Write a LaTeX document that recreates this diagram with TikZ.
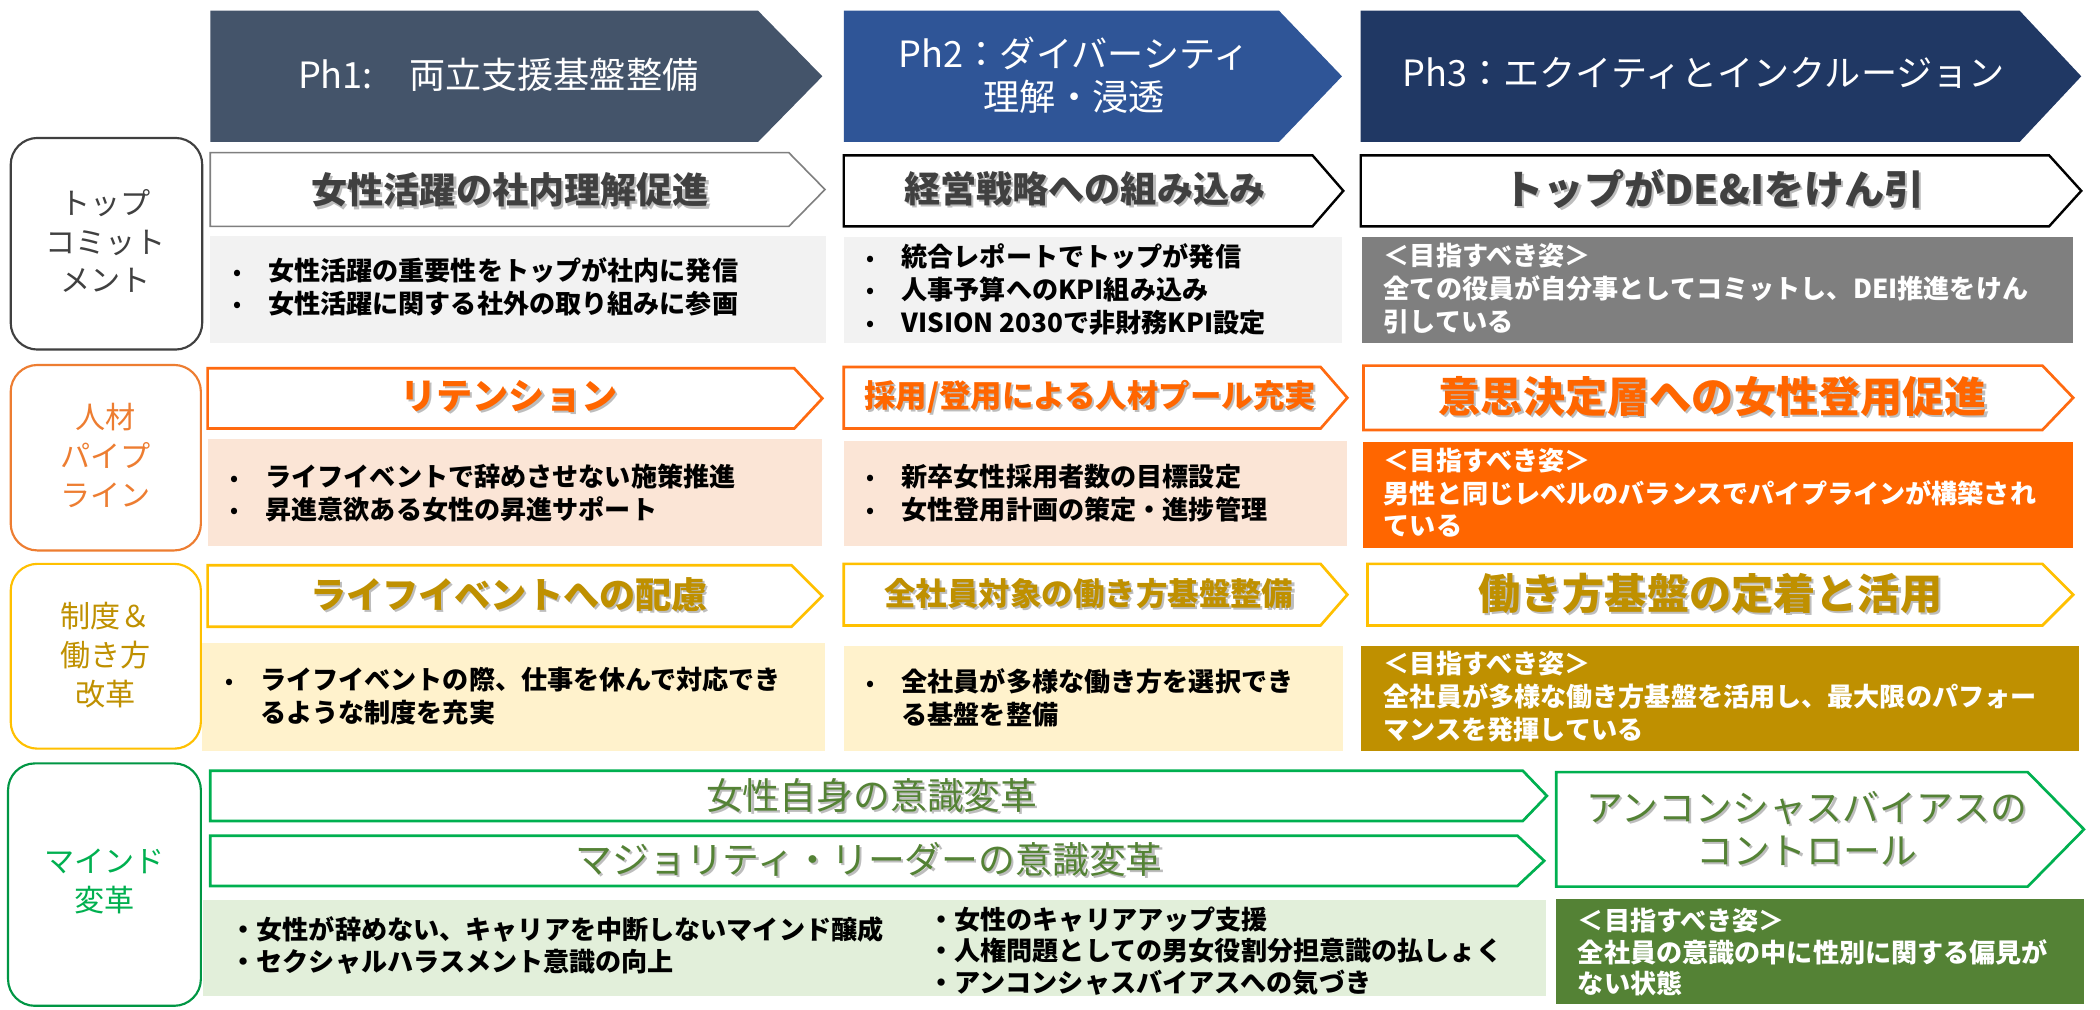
\documentclass[tikz,border=0pt]{standalone}
\usepackage{fontspec}
\setmainfont{Noto Sans CJK JP}
\definecolor{phA}{HTML}{44546A}
\definecolor{phB}{HTML}{2F5597}
\definecolor{phC}{HTML}{203864}
\definecolor{greyfill}{HTML}{F2F2F2}
\definecolor{darkgreyfill}{HTML}{7F7F7F}
\definecolor{txtgrey}{HTML}{404040}
\definecolor{orangeline}{HTML}{FF6A10}
\definecolor{orangelab}{HTML}{ED7D31}
\definecolor{orangetxt}{HTML}{FF6600}
\definecolor{peach}{HTML}{FBE5D6}
\definecolor{orangefill}{HTML}{FF6600}
\definecolor{yellowline}{HTML}{FFC000}
\definecolor{goldtxt}{HTML}{BF9000}
\definecolor{cream}{HTML}{FFF2CC}
\definecolor{goldfill}{HTML}{BF9000}
\definecolor{greenline}{HTML}{00B050}
\definecolor{greentxt}{HTML}{548235}
\definecolor{lightgreen}{HTML}{E2EFDA}
\definecolor{darkgreen}{HTML}{548235}
\newcommand\chevshape[6]{\path[#1] (#2,#3) -- (#4,#3) -- (#5,{(#3+#6)/2}) -- (#4,#6) -- (#2,#6) -- cycle;}
\newcommand\shnode[5]{%
  \node[#1,text=black!32,opacity=0.8] (#2s) at (#3+1.6,#4+1.6) {#5};
  \node[#1] (#2) at (#3,#4) {#5};}
\newcommand\bul{\makebox[26pt][l]{\raisebox{1pt}{\fontsize{15}{15}\selectfont •}}}
\begin{document}
\begin{tikzpicture}[x=1pt,y=-1pt,
  htext/.style={text=white,font=\fontsize{27}{32}\selectfont,align=center,inner sep=0},
  atext/.style={font=\bfseries\fontsize{27}{32}\selectfont,align=center,inner sep=0},
  btext/.style={font=\bfseries\fontsize{19.5}{24.5}\selectfont,align=left,inner sep=0,anchor=west},
  wtext/.style={btext,text=white},
  labbox/.style={rounded corners=20pt,line width=1.6pt,fill=white},
  ltext/.style={font=\fontsize{22.5}{29}\selectfont,align=center,inner sep=0},
  arr/.style={fill=white,line width=2pt,line join=miter}]
\useasboundingbox (0,0) rectangle (1568,754);
\fill[white] (0,0) rectangle (1568,754);

% ---------- phase headers ----------
\chevshape{fill=phA}{157}{8}{566}{614}{106}
\chevshape{fill=phB}{630}{8}{955}{1002}{106}
\chevshape{fill=phC}{1016}{8}{1508}{1554}{106}
\node[htext] (ph1) at (372,56) {Ph1:　両立支援基盤整備};
\node[htext] (ph2) at (802,56) {Ph2：ダイバーシティ\\理解・浸透};
\node[htext] (ph3) at (1272,55) {Ph3：エクイティとインクルージョン};

% ---------- row labels ----------
\draw[labbox,draw=txtgrey] (8,103) rectangle (151,261);
\node[ltext,text=txtgrey] (lab1) at (79,180) {トップ\\コミット\\メント};
\draw[labbox,draw=orangelab] (8,272.5) rectangle (150,411);
\node[ltext,text=orangelab] (lab2) at (79,340) {人材\\パイプ\\ライン};
\draw[labbox,draw=yellowline] (8,421) rectangle (150,559);
\node[ltext,text=goldtxt] (lab3) at (79,489) {制度＆\\働き方\\改革};
\draw[labbox,draw=greenline!85!black] (6,570) rectangle (150,751);
\node[ltext,text=greenline] (lab4) at (78,658) {マインド\\変革};

% ---------- row 1 ----------
\chevshape{arr,draw=darkgreyfill,line width=1.2pt}{157}{114}{589}{616}{169}
\chevshape{arr,draw=black,line width=1.8pt}{630}{116}{980}{1003}{169}
\chevshape{arr,draw=black,line width=1.8pt}{1016}{116}{1530}{1554}{169}
\shnode{atext,text=txtgrey}{a11}{381}{142}{女性活躍の社内理解促進}
\shnode{atext,text=txtgrey}{a12}{810}{141}{経営戦略への組み込み}
\shnode{atext,text=txtgrey,font=\bfseries\fontsize{30}{34}\selectfont}{a13}{1280}{141}{トップがDE\&Iをけん引}
\fill[greyfill] (157,176) rectangle (617,256);
\fill[greyfill] (630,177) rectangle (1002,256);
\fill[darkgreyfill] (1017,177) rectangle (1548,256);
\node[btext] (b11) at (174,214) {\bul 女性活躍の重要性をトップが社内に発信\\\bul 女性活躍に関する社外の取り組みに参画};
\node[btext] (b12) at (647,216) {\bul 統合レポートでトップが発信\\\bul 人事予算へのKPI組み込み\\\bul VISION 2030で非財務KPI設定};
\node[wtext] (b13) at (1033,215.5) {＜目指すべき姿＞\\全ての役員が自分事としてコミットし、DEI推進をけん\\引している};

% ---------- row 2 ----------
\chevshape{arr,draw=orangeline}{155}{275}{593}{614}{320}
\chevshape{arr,draw=orangeline}{630}{274}{986}{1006}{320}
\chevshape{arr,draw=orangeline}{1018}{273}{1525}{1548}{321}
\shnode{atext,text=orangetxt}{a21}{380}{296}{リテンション}
\shnode{atext,text=orangetxt,font=\bfseries\fontsize{23.5}{28}\selectfont}{a22}{814}{296}{採用/登用による人材プール充実}
\shnode{atext,text=orangetxt,font=\bfseries\fontsize{31.5}{36}\selectfont}{a23}{1279}{296}{意思決定層への女性登用促進}
\fill[peach] (155,328) rectangle (614,408);
\fill[peach] (630,329) rectangle (1006,408);
\fill[orangefill] (1018,330) rectangle (1548,409);
\node[btext] (b21) at (172,368) {\bul ライフイベントで辞めさせない施策推進\\\bul 昇進意欲ある女性の昇進サポート};
\node[btext] (b22) at (647,368) {\bul 新卒女性採用者数の目標設定\\\bul 女性登用計画の策定・進捗管理};
\node[wtext] (b23) at (1033,368) {＜目指すべき姿＞\\男性と同じレベルのバランスでパイプラインが構築され\\ている};

% ---------- row 3 ----------
\chevshape{arr,draw=yellowline}{155}{422}{591}{614}{468}
\chevshape{arr,draw=yellowline}{630}{421}{986}{1006}{467}
\chevshape{arr,draw=yellowline}{1021}{421}{1525}{1548}{467}
\shnode{atext,text=goldtxt}{a31}{380}{444}{ライフイベントへの配慮}
\shnode{atext,text=goldtxt,font=\bfseries\fontsize{23.5}{28}\selectfont}{a32}{813}{443}{全社員対象の働き方基盤整備}
\shnode{atext,text=goldtxt,font=\bfseries\fontsize{31.5}{36}\selectfont}{a33}{1277}{443}{働き方基盤の定着と活用}
\fill[cream] (151,480) rectangle (616,561);
\fill[cream] (630,482) rectangle (1003,561);
\fill[goldfill] (1016,482) rectangle (1552,561);
\node[btext] (b31) at (168,520) {\bul ライフイベントの際、仕事を休んで対応でき\\\hspace*{26pt}るような制度を充実};
\node[btext] (b32) at (647,521) {\bul 全社員が多様な働き方を選択でき\\\hspace*{26pt}る基盤を整備};
\node[wtext] (b33) at (1033,520) {＜目指すべき姿＞\\全社員が多様な働き方基盤を活用し、最大限のパフォー\\マンスを発揮している};

% ---------- row 4 ----------
\chevshape{arr,draw=greenline}{157}{575.5}{1137}{1155}{613}
\chevshape{arr,draw=greenline}{157}{624}{1133}{1153}{661.5}
\chevshape{arr,draw=greenline}{1162}{576.5}{1514}{1556}{662}
\shnode{atext,text=greentxt,font=\fontsize{27.5}{32}\selectfont}{a41}{651}{594}{女性自身の意識変革}
\shnode{atext,text=greentxt,font=\fontsize{27.5}{32}\selectfont}{a42}{649}{642}{マジョリティ・リーダーの意識変革}
\shnode{atext,text=greentxt,font=\fontsize{27.5}{32}\selectfont}{a43}{1349}{618.5}{アンコンシャスバイアスの\\コントロール}
\fill[lightgreen] (151.5,672) rectangle (1154,744);
\fill[darkgreen] (1162,671) rectangle (1556,750);
\node[btext,font=\fontsize{19.5}{24}\selectfont\bfseries] (b41) at (172,706) {・女性が辞めない、キャリアを中断しないマインド醸成\\・セクシャルハラスメント意識の向上};
\node[btext,font=\fontsize{19.5}{23.5}\selectfont\bfseries] (b42) at (693,710) {・女性のキャリアアップ支援\\・人権問題としての男女役割分担意識の払しょく\\・アンコンシャスバイアスへの気づき};
\node[wtext,font=\fontsize{19.5}{23.5}\selectfont\bfseries] (b43) at (1178,711) {＜目指すべき姿＞\\全社員の意識の中に性別に関する偏見が\\ない状態};
\end{tikzpicture}
\end{document}
